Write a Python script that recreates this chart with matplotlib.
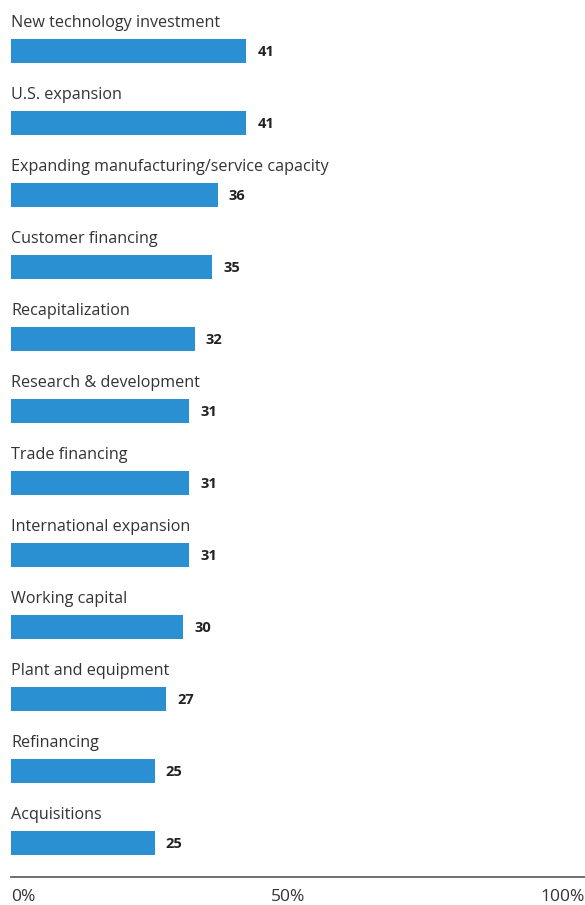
import matplotlib
matplotlib.use("Agg")
import matplotlib.pyplot as plt
import matplotlib.transforms as mtransforms

# uses of funds, share of respondents (%)
categories = [
    "New technology investment",
    "U.S. expansion",
    "Expanding manufacturing/service capacity",
    "Customer financing",
    "Recapitalization",
    "Research & development",
    "Trade financing",
    "International expansion",
    "Working capital",
    "Plant and equipment",
    "Refinancing",
    "Acquisitions",
]
values = [41, 41, 36, 35, 32, 31, 31, 31, 30, 27, 25, 25]
tick_values = [0, 50, 100]
tick_labels = ["0%", "50%", "100%"]

BAR_COLOR = "#2a90d2"
TEXT_COLOR = "#333333"

plt.rcParams["font.family"] = ["Open Sans", "DejaVu Sans"]

W, H, DPI = 585, 905, 100
fig = plt.figure(figsize=(W / DPI, H / DPI), dpi=DPI)

# axes spans from the left margin to the right edge; bottom spine is the axis line
ax = fig.add_axes([11 / W, (H - 877) / H, 1 - 11 / W, 877 / H])
pitch = 72.0
ax.set_ylim((877 - 51) / pitch, -51 / pitch)
ax.set_xlim(0, 99.7)

ypos = list(range(len(categories)))
ax.barh(ypos, values, height=24 / pitch, color=BAR_COLOR, left=0)

for y, cat, val in zip(ypos, categories, values):
    ax.text(0, y - 24 / pitch, cat, fontsize=11.6, color=TEXT_COLOR,
            va="baseline", ha="left")
    ax.annotate(str(val), xy=(val, y), xytext=(8, -0.5), textcoords="offset points",
                fontsize=10.5, fontweight="bold", color="#222222",
                va="center", ha="left")

for side in ["top", "right", "left"]:
    ax.spines[side].set_visible(False)
ax.spines["bottom"].set_color("#555555")
ax.spines["bottom"].set_linewidth(1.2)

ax.set_yticks([])
ax.set_xticks(tick_values)
ax.set_xticklabels(tick_labels, fontsize=12.5, color=TEXT_COLOR)
ax.tick_params(axis="x", length=0, pad=8.5)
labels = ax.get_xticklabels()
labels[0].set_horizontalalignment("left")
labels[-1].set_horizontalalignment("right")
shift = mtransforms.ScaledTranslation(-10 / DPI, 0, fig.dpi_scale_trans)
labels[1].set_transform(labels[1].get_transform() + shift)

fig.savefig("out.png", dpi=DPI)
